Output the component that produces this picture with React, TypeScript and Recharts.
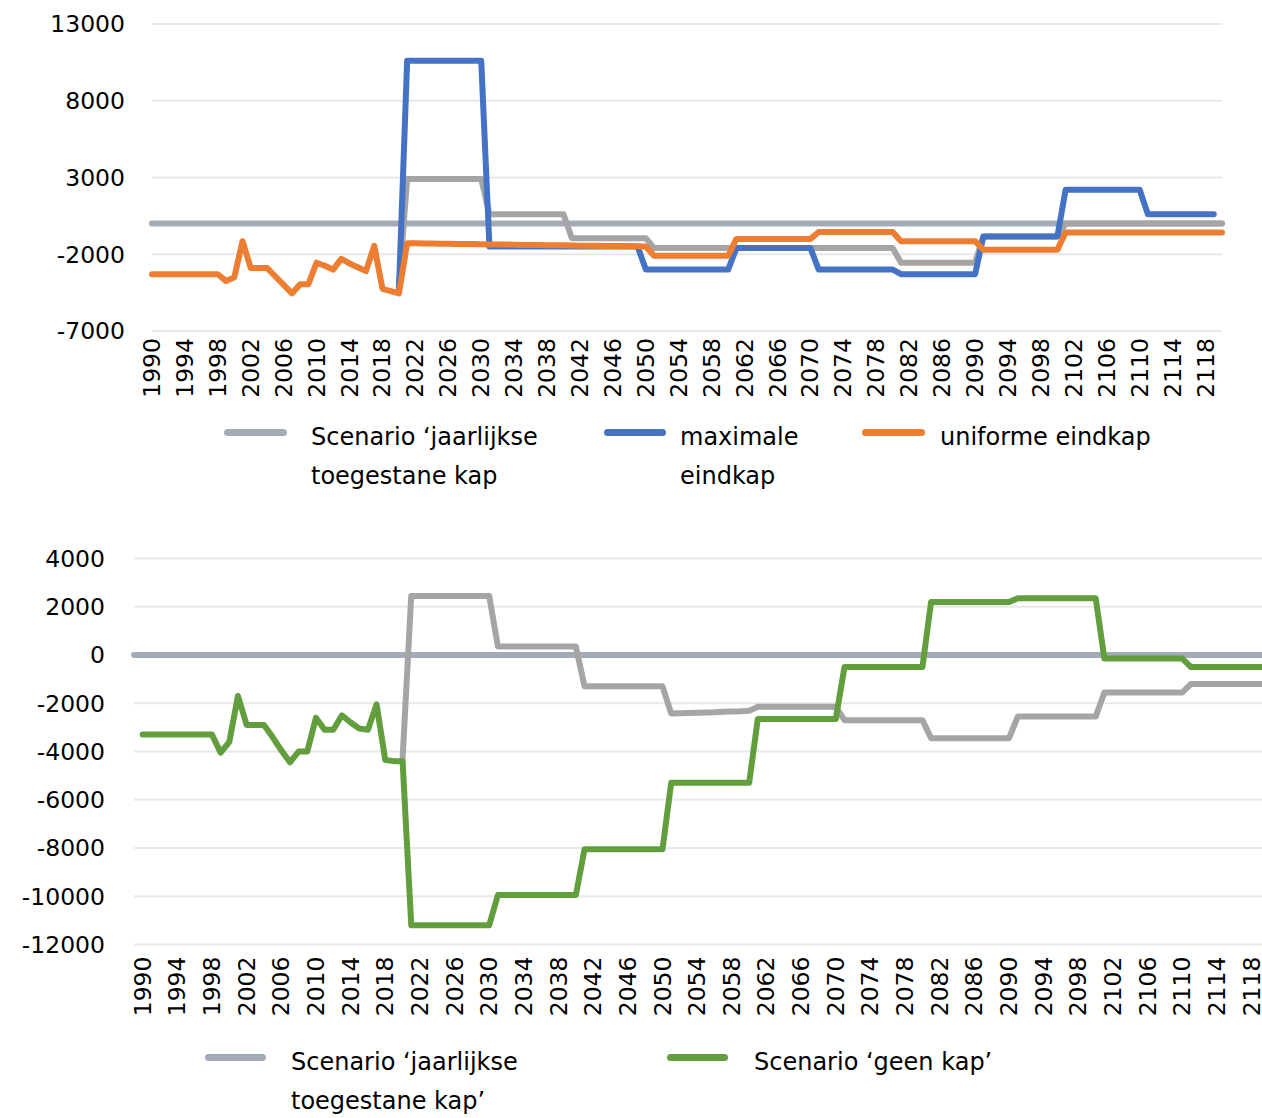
import React from 'react';
import { LineChart, Line, XAxis, YAxis, CartesianGrid, Legend } from 'recharts';

const FONT = "'DejaVu Sans', Verdana, sans-serif";

const COLOR_BASE = '#A3ABB9';
const COLOR_GRAY = '#A5A5A5';
const COLOR_BLUE = '#4472C4';
const COLOR_ORANGE = '#ED7D31';
const COLOR_GREEN = '#639E3E';

// ---------- categories ----------
const topYears: string[] = Array.from({ length: 131 }, (_, i) => String(1990 + i));
const topTickLabels: string[] = topYears.filter((_, i) => i % 4 === 0);
const topYTicks = [-7000, -2000, 3000, 8000, 13000];

const bottomYears: string[] = [' ', ...topYears];
const bottomTickLabels: string[] = topTickLabels;
const bottomYTicks = [-12000, -10000, -8000, -6000, -4000, -2000, 0, 2000, 4000];

// ---------- top chart series (1990..2120) ----------
const topBase: (number | null)[] = [
  0, 0, 0, 0, 0, 0, 0, 0, 0, 0,
  0, 0, 0, 0, 0, 0, 0, 0, 0, 0,
  0, 0, 0, 0, 0, 0, 0, 0, 0, 0,
  0, 0, 0, 0, 0, 0, 0, 0, 0, 0,
  0, 0, 0, 0, 0, 0, 0, 0, 0, 0,
  0, 0, 0, 0, 0, 0, 0, 0, 0, 0,
  0, 0, 0, 0, 0, 0, 0, 0, 0, 0,
  0, 0, 0, 0, 0, 0, 0, 0, 0, 0,
  0, 0, 0, 0, 0, 0, 0, 0, 0, 0,
  0, 0, 0, 0, 0, 0, 0, 0, 0, 0,
  0, 0, 0, 0, 0, 0, 0, 0, 0, 0,
  0, 0, 0, 0, 0, 0, 0, 0, 0, 0,
  0, 0, 0, 0, 0, 0, 0, 0, 0, 0,
  0,
];

const topGray: (number | null)[] = [
  null, null, null, null, null, null, null, null, null, null,
  null, null, null, null, null, null, null, null, null, null,
  null, null, null, null, null, null, null, null, null, null,
  -4100, 2900, 2900, 2900, 2900, 2900, 2900, 2900, 2900, 2900,
  2900, 600, 600, 600, 600, 600, 600, 600, 600, 600,
  600, -950, -950, -950, -950, -950, -950, -950, -950, -950,
  -950, -1600, -1600, -1600, -1600, -1600, -1600, -1600, -1600, -1600,
  -1600, -1600, -1600, -1600, -1600, -1600, -1600, -1600, -1600, -1600,
  -1600, -1600, -1600, -1600, -1600, -1600, -1600, -1600, -1600, -1600,
  -1600, -2550, -2550, -2550, -2550, -2550, -2550, -2550, -2550, -2550,
  -2550, -850, -850, -850, -850, -850, -850, -850, -850, -850,
  -850, 0, 0, 0, 0, 0, 0, 0, 0, 0,
  0, 0, 0, 0, 0, 0, 0, 0, 0, 0,
  0,
];

const topBlue: (number | null)[] = [
  null, null, null, null, null, null, null, null, null, null,
  null, null, null, null, null, null, null, null, null, null,
  null, null, null, null, null, null, null, null, null, null,
  -4300, 10600, 10600, 10600, 10600, 10600, 10600, 10600, 10600, 10600,
  10600, -1500, -1500, -1500, -1500, -1500, -1500, -1500, -1500, -1500,
  -1500, -1500, -1500, -1500, -1500, -1500, -1500, -1500, -1500, -1500,
  -3000, -3000, -3000, -3000, -3000, -3000, -3000, -3000, -3000, -3000,
  -3000, -1600, -1600, -1600, -1600, -1600, -1600, -1600, -1600, -1600,
  -1600, -3000, -3000, -3000, -3000, -3000, -3000, -3000, -3000, -3000,
  -3000, -3300, -3300, -3300, -3300, -3300, -3300, -3300, -3300, -3300,
  -3300, -850, -850, -850, -850, -850, -850, -850, -850, -850,
  -850, 2200, 2200, 2200, 2200, 2200, 2200, 2200, 2200, 2200,
  2200, 600, 600, 600, 600, 600, 600, 600, 600, 600,
  null,
];

const topOrange: (number | null)[] = [
  -3300, -3300, -3300, -3300, -3300, -3300, -3300, -3300, -3300, -3750,
  -3500, -1150, -2900, -2900, -2900, -3450, -4000, -4550, -3950, -3950,
  -2550, -2750, -3000, -2300, -2600, -2850, -3100, -1450, -4250, -4400,
  -4550, -1280, -1290, -1300, -1300, -1310, -1320, -1330, -1330, -1340,
  -1350, -1360, -1360, -1370, -1380, -1390, -1400, -1400, -1410, -1420,
  -1420, -1430, -1440, -1440, -1450, -1460, -1460, -1470, -1480, -1480,
  -1490, -2100, -2100, -2100, -2100, -2100, -2100, -2100, -2100, -2100,
  -2100, -1000, -1000, -1000, -1000, -1000, -1000, -1000, -1000, -1000,
  -1000, -550, -550, -550, -550, -550, -550, -550, -550, -550,
  -550, -1150, -1150, -1150, -1150, -1150, -1150, -1150, -1150, -1150,
  -1150, -1700, -1700, -1700, -1700, -1700, -1700, -1700, -1700, -1700,
  -1700, -580, -580, -580, -580, -580, -580, -580, -580, -580,
  -580, -580, -580, -580, -580, -580, -580, -580, -580, -580,
  -580,
];

// ---------- bottom chart series (blank, 1990..2120) ----------
const bottomBase: (number | null)[] = [
  0,
  0, 0, 0, 0, 0, 0, 0, 0, 0, 0,
  0, 0, 0, 0, 0, 0, 0, 0, 0, 0,
  0, 0, 0, 0, 0, 0, 0, 0, 0, 0,
  0, 0, 0, 0, 0, 0, 0, 0, 0, 0,
  0, 0, 0, 0, 0, 0, 0, 0, 0, 0,
  0, 0, 0, 0, 0, 0, 0, 0, 0, 0,
  0, 0, 0, 0, 0, 0, 0, 0, 0, 0,
  0, 0, 0, 0, 0, 0, 0, 0, 0, 0,
  0, 0, 0, 0, 0, 0, 0, 0, 0, 0,
  0, 0, 0, 0, 0, 0, 0, 0, 0, 0,
  0, 0, 0, 0, 0, 0, 0, 0, 0, 0,
  0, 0, 0, 0, 0, 0, 0, 0, 0, 0,
  0, 0, 0, 0, 0, 0, 0, 0, 0, 0,
  0,
];

const bottomGray: (number | null)[] = [
  null,
  null, null, null, null, null, null, null, null, null, null,
  null, null, null, null, null, null, null, null, null, null,
  null, null, null, null, null, null, null, null, null, null,
  -4300, 2450, 2450, 2450, 2450, 2450, 2450, 2450, 2450, 2450,
  2450, 350, 350, 350, 350, 350, 350, 350, 350, 350,
  350, -1300, -1300, -1300, -1300, -1300, -1300, -1300, -1300, -1300,
  -1300, -2420, -2410, -2400, -2390, -2380, -2370, -2350, -2340, -2330,
  -2310, -2150, -2150, -2150, -2150, -2150, -2150, -2150, -2150, -2150,
  -2150, -2700, -2700, -2700, -2700, -2700, -2700, -2700, -2700, -2700,
  -2700, -3450, -3450, -3450, -3450, -3450, -3450, -3450, -3450, -3450,
  -3450, -2550, -2550, -2550, -2550, -2550, -2550, -2550, -2550, -2550,
  -2550, -1550, -1550, -1550, -1550, -1550, -1550, -1550, -1550, -1550,
  -1550, -1200, -1200, -1200, -1200, -1200, -1200, -1200, -1200, -1200,
  -1200,
];

const bottomGreen: (number | null)[] = [
  null,
  -3300, -3300, -3300, -3300, -3300, -3300, -3300, -3300, -3300, -4050,
  -3600, -1700, -2900, -2900, -2900, -3400, -3950, -4450, -4000, -4000,
  -2600, -3100, -3100, -2500, -2800, -3050, -3100, -2050, -4350, -4400,
  -4400, -11200, -11200, -11200, -11200, -11200, -11200, -11200, -11200, -11200,
  -11200, -9950, -9950, -9950, -9950, -9950, -9950, -9950, -9950, -9950,
  -9950, -8050, -8050, -8050, -8050, -8050, -8050, -8050, -8050, -8050,
  -8050, -5300, -5300, -5300, -5300, -5300, -5300, -5300, -5300, -5300,
  -5300, -2650, -2650, -2650, -2650, -2650, -2650, -2650, -2650, -2650,
  -2650, -500, -500, -500, -500, -500, -500, -500, -500, -500,
  -500, 2200, 2200, 2200, 2200, 2200, 2200, 2200, 2200, 2200,
  2200, 2350, 2350, 2350, 2350, 2350, 2350, 2350, 2350, 2350,
  2350, -150, -150, -150, -150, -150, -150, -150, -150, -150,
  -150, -500, -500, -500, -500, -500, -500, -500, -500, -500,
  -500,
];

// ---------- legend texts ----------
const legendBaseTop = ['Scenario \u2018jaarlijkse', 'toegestane kap'];
const legendBlue = ['maximale', 'eindkap'];
const legendOrange = ['uniforme eindkap'];
const legendBaseBottom = ['Scenario \u2018jaarlijkse', 'toegestane kap\u2019'];
const legendGreen = ['Scenario \u2018geen kap\u2019'];

const topData = topYears.map((year, i) => ({
  year,
  base: topBase[i],
  gray: topGray[i],
  blue: topBlue[i],
  orange: topOrange[i],
}));

const bottomData = bottomYears.map((year, i) => ({
  year,
  base: bottomBase[i],
  gray: bottomGray[i],
  green: bottomGreen[i],
}));

type LegendItem = {
  color: string;
  lines: string[];
  iconX: number;
  iconW: number;
  iconY: number;
  textX: number;
  textTop: number;
};

function LegendBox({ items }: { items: LegendItem[] }) {
  return (
    <div style={{ position: 'relative', width: 0, height: 0 }}>
      {items.map((it, i) => (
        <React.Fragment key={i}>
          <div
            style={{
              position: 'absolute',
              left: it.iconX,
              top: it.iconY - 3.5,
              width: it.iconW,
              height: 7,
              borderRadius: 3.5,
              background: it.color,
            }}
          />
          <div
            style={{
              position: 'absolute',
              left: it.textX,
              top: it.textTop,
              fontFamily: FONT,
              fontSize: 24,
              lineHeight: '39px',
              color: '#000',
              whiteSpace: 'nowrap',
            }}
          >
            {it.lines.map((l, j) => (
              <div key={j}>{l}</div>
            ))}
          </div>
        </React.Fragment>
      ))}
    </div>
  );
}

function makeXTick(labels: string[]) {
  const set = new Set(labels);
  return (props: any) => {
    const { x, y, payload } = props;
    const v = String(payload?.value ?? '');
    if (!set.has(v)) return <g />;
    return (
      <text
        x={x}
        y={y}
        transform={`rotate(-90 ${x} ${y})`}
        textAnchor="end"
        dominantBaseline="central"
        fontSize={23.5}
        fontFamily={FONT}
        fill="#000"
      >
        {v}
      </text>
    );
  };
}

const TopTick = makeXTick(topTickLabels);
const BottomTick = makeXTick(bottomTickLabels);

const lineCommon = {
  type: 'linear' as const,
  dot: false,
  activeDot: false,
  isAnimationActive: false,
  strokeWidth: 6,
  strokeLinecap: 'round' as const,
  strokeLinejoin: 'round' as const,
  connectNulls: false,
};

export default function App() {
  const topLegendItems: LegendItem[] = [
    { color: COLOR_BASE, lines: legendBaseTop, iconX: 224, iconW: 63, iconY: 432, textX: 311, textTop: 417.5 },
    { color: COLOR_BLUE, lines: legendBlue, iconX: 604, iconW: 62, iconY: 432, textX: 680, textTop: 417.5 },
    { color: COLOR_ORANGE, lines: legendOrange, iconX: 862, iconW: 63, iconY: 432, textX: 940, textTop: 417.5 },
  ];
  const bottomLegendItems: LegendItem[] = [
    { color: COLOR_BASE, lines: legendBaseBottom, iconX: 205, iconW: 61, iconY: 547, textX: 291, textTop: 532.5 },
    { color: COLOR_GREEN, lines: legendGreen, iconX: 667, iconW: 61, iconY: 547, textX: 754, textTop: 532.5 },
  ];

  return (
    <div
      style={{
        position: 'absolute',
        left: 0,
        top: 0,
        width: 1262,
        height: 1118,
        overflow: 'hidden',
        background: '#fff',
      }}
    >
      <div style={{ position: 'absolute', left: 0, top: 0 }}>
        <LineChart width={1262} height={510} data={topData} margin={{ top: 24, right: 40, bottom: 99, left: 0 }}>
          <CartesianGrid vertical={false} stroke="#E8E8E8" strokeWidth={2} />
          <XAxis
            dataKey="year"
            interval={0}
            tickLine={false}
            axisLine={false}
            tickSize={0}
            tickMargin={7}
            height={80}
            tick={TopTick}
          />
          <YAxis
            type="number"
            domain={[-7000, 13000]}
            ticks={topYTicks}
            interval={0}
            width={152}
            axisLine={false}
            tickLine={false}
            tickSize={0}
            tickMargin={27}
            tick={{ fontSize: 23.5, fill: '#000', fontFamily: FONT }}
            allowDataOverflow
          />
          <Legend
            verticalAlign="middle"
            align="left"
            layout="horizontal"
            content={() => <LegendBox items={topLegendItems} />}
            wrapperStyle={{ left: 0, top: 0, width: 1, height: 1 }}
          />
          <Line {...lineCommon} dataKey="base" stroke={COLOR_BASE} />
          <Line {...lineCommon} dataKey="gray" stroke={COLOR_GRAY} legendType="none" />
          <Line {...lineCommon} dataKey="blue" stroke={COLOR_BLUE} />
          <Line {...lineCommon} dataKey="orange" stroke={COLOR_ORANGE} />
        </LineChart>
      </div>

      <div style={{ position: 'absolute', left: 0, top: 510 }}>
        <LineChart width={1300} height={608} data={bottomData} margin={{ top: 48.5, right: 31, bottom: 93.5, left: 0 }}>
          <CartesianGrid vertical={false} stroke="#E8E8E8" strokeWidth={2} />
          <XAxis
            dataKey="year"
            interval={0}
            tickLine={false}
            axisLine={false}
            tickSize={0}
            tickMargin={12}
            height={80}
            tick={BottomTick}
          />
          <YAxis
            type="number"
            domain={[-12000, 4000]}
            ticks={bottomYTicks}
            interval={0}
            width={133}
            axisLine={false}
            tickLine={false}
            tickSize={0}
            tickMargin={29}
            tick={{ fontSize: 23.5, fill: '#000', fontFamily: FONT }}
            allowDataOverflow
          />
          <Legend
            verticalAlign="middle"
            align="left"
            layout="horizontal"
            content={() => <LegendBox items={bottomLegendItems} />}
            wrapperStyle={{ left: 0, top: 0, width: 1, height: 1 }}
          />
          <Line {...lineCommon} dataKey="base" stroke={COLOR_BASE} />
          <Line {...lineCommon} dataKey="gray" stroke={COLOR_GRAY} legendType="none" />
          <Line {...lineCommon} dataKey="green" stroke={COLOR_GREEN} />
        </LineChart>
      </div>
    </div>
  );
}
